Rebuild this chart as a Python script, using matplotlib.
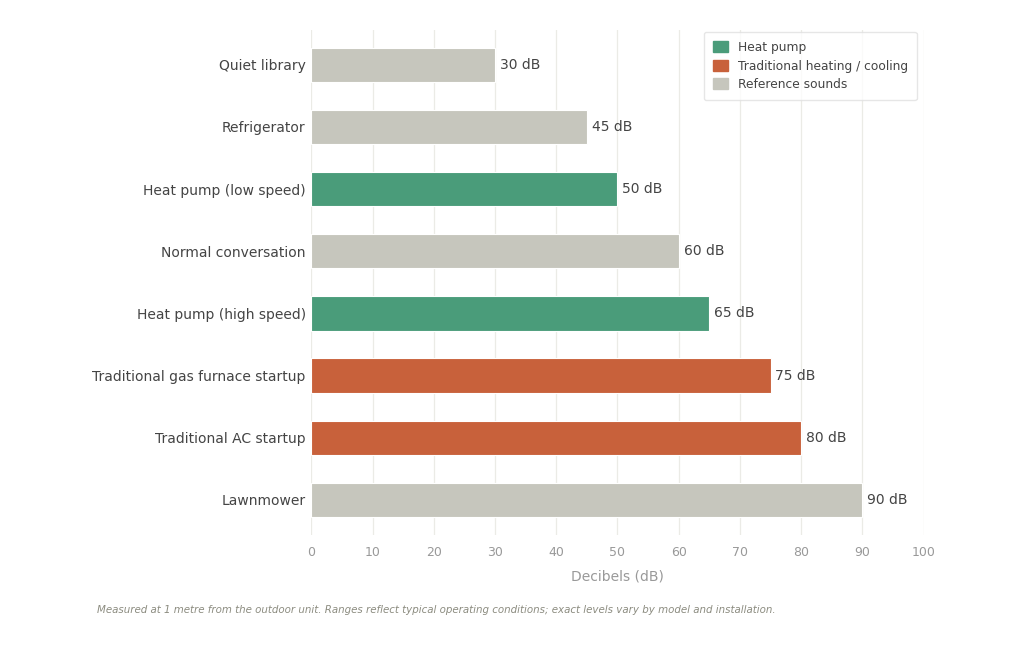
import matplotlib.pyplot as plt
from matplotlib.patches import Patch

# Sound levels (dB)
sources = ["Quiet library", "Refrigerator", "Heat pump (low speed)", "Normal conversation",
           "Heat pump (high speed)", "Traditional gas furnace startup",
           "Traditional AC startup", "Lawnmower"]
decibels = [30, 45, 50, 60, 65, 75, 80, 90]
groups = ["ref", "ref", "hp", "ref", "hp", "trad", "trad", "ref"]

couleurs = {"hp": "#4a9c7a", "trad": "#c8613b", "ref": "#c6c6bd"}
noms = {"hp": "Heat pump", "trad": "Traditional heating / cooling", "ref": "Reference sounds"}

fig = plt.figure(figsize=(10.24, 6.49), dpi=100)
ax = fig.add_axes([0.304, 0.176, 0.598, 0.778])

pos = list(range(len(sources)))
ax.barh(pos, decibels, height=0.55, color=[couleurs[g] for g in groups],
        edgecolor="white", linewidth=0.8, zorder=3)

for p, v in zip(pos, decibels):
    ax.text(v + 0.8, p, f"{v} dB", va="center", ha="left", fontsize=10, color="#444444")

ax.set_yticks(pos)
ax.set_yticklabels(sources, fontsize=10, color="#444444")
ax.set_ylim(7.56, -0.56)
ax.set_xlim(0, 100)
ax.set_xticks(range(0, 101, 10))
ax.tick_params(axis="x", colors="#999999", labelsize=9, length=0, pad=8)
ax.tick_params(axis="y", length=0, pad=4)
ax.set_xlabel("Decibels (dB)", fontsize=10, color="#999999", labelpad=8)
ax.grid(axis="x", color="#ebebe6", linewidth=0.9, zorder=0)
for s in ax.spines.values():
    s.set_visible(False)

handles = [Patch(color=couleurs[k], label=noms[k]) for k in ["hp", "trad", "ref"]]
leg = ax.legend(handles=handles, loc="upper right", fontsize=8.8, frameon=True,
                handlelength=1.2, handleheight=1.0, handletextpad=0.8,
                borderpad=0.75, labelspacing=0.45,
                borderaxespad=0, bbox_to_anchor=(0.989, 0.996))
leg.get_frame().set_edgecolor("#e0e0e0")
for t in leg.get_texts():
    t.set_color("#444444")

fig.text(0.095, 0.055, "Measured at 1 metre from the outdoor unit. Ranges reflect typical operating "
         "conditions; exact levels vary by model and installation.",
         fontsize=7.4, style="italic", color="#8c8c80")

plt.savefig("out.png", dpi=100)
